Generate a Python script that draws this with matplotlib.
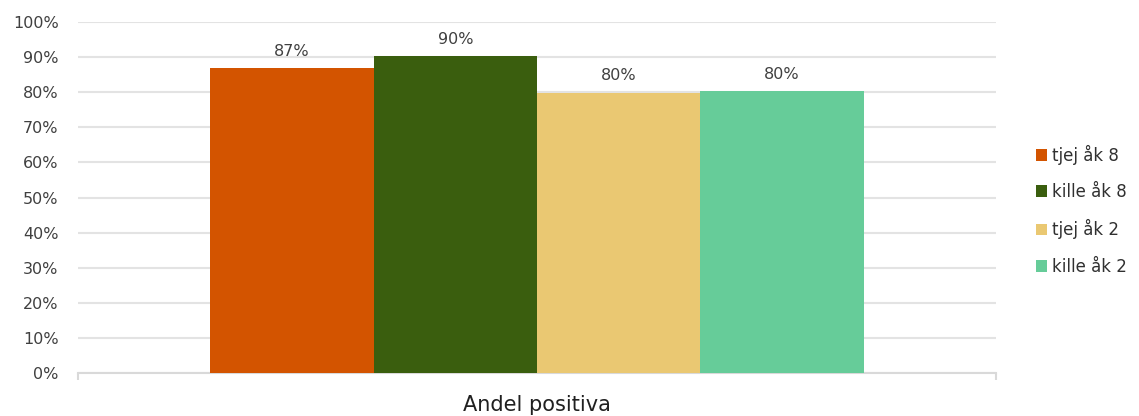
import matplotlib.pyplot as plt
from matplotlib.ticker import PercentFormatter

categories = ["Andel positiva"]
series = ["tjej åk 8", "kille åk 8", "tjej åk 2", "kille åk 2"]
values = [0.869, 0.903, 0.798, 0.803]
labels = ["87%", "90%", "80%", "80%"]
colors = ["#d35400", "#3a5e0e", "#eac872", "#66cc99"]

plt.rcParams['font.family'] = ['DejaVu Sans']

fig = plt.figure(figsize=(11.39, 4.16), dpi=100)
ax = fig.add_axes([78/1139, 1 - 373/416, (996 - 78)/1139, (373 - 22)/416])

w = 0.178
n = len(series)
for i, (s, v, lab, c) in enumerate(zip(series, values, labels, colors)):
    x = (i - (n - 1) / 2) * w
    ax.bar(x, v, width=w, color=c, label=s, zorder=3)
    ax.text(x, v + 0.027, lab, ha='center', va='bottom', fontsize=11.5, color='#404040')

ax.set_xlim(-0.5, 0.5)
ax.set_ylim(0, 1)
ax.set_yticks([i / 10 for i in range(11)])
ax.yaxis.set_major_formatter(PercentFormatter(1.0, decimals=0))
ax.grid(axis='y', color='#e3e3e3', linewidth=1.5, zorder=0)
ax.set_xticks([-0.5, 0.5])
ax.set_xticklabels([])
ax.tick_params(axis='x', length=5, color='#d9d9d9', width=1.5)
ax.tick_params(axis='y', length=0, labelsize=11.5, labelcolor='#404040', pad=14)
for sp in ['top', 'right', 'left']:
    ax.spines[sp].set_visible(False)
ax.spines['bottom'].set_color('#d9d9d9')
ax.spines['bottom'].set_linewidth(1.5)

fig.text(537/1139, 1 - 405/416, categories[0], ha='center', va='center', fontsize=15, color='#202020')

ax.legend(loc='center left', bbox_to_anchor=(1.027, 0.464), frameon=False, fontsize=12,
          handlelength=0.7, handleheight=0.7, handletextpad=0.3, labelspacing=1.1,
          labelcolor='#303030')

fig.savefig("out.png", dpi=100)
